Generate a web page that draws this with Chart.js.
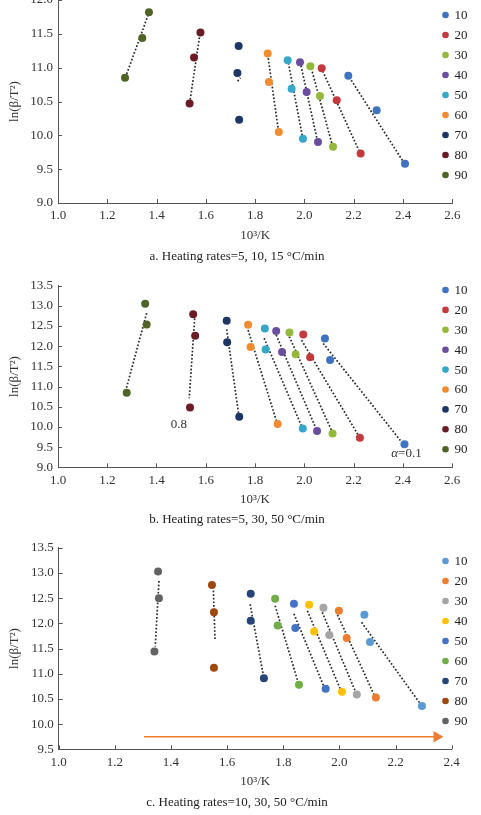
<!DOCTYPE html>
<html><head><meta charset="utf-8">
<script src="https://cdn.jsdelivr.net/npm/chart.js@4.4.1/dist/chart.umd.min.js"></script>
<style>
body{margin:0;background:#fff;width:481px;height:815px;overflow:hidden;position:relative;font-family:'Liberation Serif','Times New Roman',serif}
canvas{position:absolute;left:0}
.cap{position:absolute;left:0;width:474px;text-align:center;font-size:13px;line-height:16px;color:#222;white-space:nowrap}
</style></head><body>
<canvas id="ca" width="481" height="285" style="top:-20px"></canvas>
<canvas id="cb" width="481" height="265" style="top:270px"></canvas>
<canvas id="cc" width="481" height="280" style="top:535px"></canvas>
<div class="cap" style="top:248px">a. Heating rates=5, 10, 15 °C/min</div>
<div class="cap" style="top:511px">b. Heating rates=5, 30, 50 °C/min</div>
<div class="cap" style="top:794px">c. Heating rates=10, 30, 50 °C/min</div>
<script>
// ---- data (conversion levels, % ) ----
const CONV = ['10','20','30','40','50','60','70','80','90'];

const X_TICKS_AB = [1.0,1.2,1.4,1.6,1.8,2.0,2.2,2.4,2.6];
const X_TICKS_C  = [1.0,1.2,1.4,1.6,1.8,2.0,2.2,2.4];
const Y_TICKS_A  = [9.0,9.5,10.0,10.5,11.0,11.5,12.0];
const Y_TICKS_B  = [9.0,9.5,10.0,10.5,11.0,11.5,12.0,12.5,13.0,13.5];
const Y_TICKS_C  = [9.5,10.0,10.5,11.0,11.5,12.0,12.5,13.0,13.5];

const COLORS_AB = ['#3f72c0','#c4393c','#93b83c','#6b4d9e','#35a7c8','#f28a30','#1d3664','#6a1c26','#4f6326'];
const COLORS_C  = ['#5b9bd5','#ed7d31','#a5a5a5','#ffc000','#4472c4','#70ad47','#264478','#9e480e','#636363'];

// panel a
const A_X = [[2.178,2.293,2.408],[2.070,2.131,2.228],[2.024,2.063,2.116],[1.982,2.009,2.055],[1.932,1.948,1.994],[1.851,1.856,1.896],[1.733,1.728,1.735],[1.578,1.552,1.534],[1.369,1.342,1.272]];
const A_Y = [[10.88,10.37,9.58],[10.99,10.52,9.73],[11.02,10.58,9.83],[11.08,10.64,9.90],[11.11,10.69,9.95],[11.21,10.79,10.05],[11.32,10.92,10.23],[11.52,11.15,10.47],[11.82,11.44,10.85]];
const A_FIT = [[2.182,10.86,2.401,9.61],[2.074,10.95,2.223,9.76],[2.028,10.99,2.112,9.87],[1.986,11.03,2.052,9.93],[1.935,11.07,1.992,9.98],[1.853,11.14,1.894,10.08],[1.729,10.80,1.740,10.85],[1.576,11.50,1.536,10.52],[1.366,11.78,1.275,10.87]];

// panel b
const B_X = [[2.084,2.105,2.407],[1.996,2.024,2.226],[1.940,1.965,2.115],[1.886,1.910,2.052],[1.840,1.843,1.994],[1.772,1.782,1.892],[1.685,1.687,1.736],[1.549,1.557,1.536],[1.354,1.360,1.279]];
const B_Y = [[12.19,11.66,9.57],[12.29,11.73,9.73],[12.34,11.80,9.84],[12.38,11.86,9.90],[12.44,11.92,9.96],[12.53,11.98,10.07],[12.63,12.10,10.25],[12.79,12.26,10.48],[13.05,12.54,10.85]];
const B_FIT = [[2.077,12.07,2.395,9.63],[1.989,12.15,2.219,9.80],[1.939,12.24,2.111,9.91],[1.886,12.28,2.047,9.97],[1.837,12.20,1.989,10.02],[1.772,12.40,1.888,10.13],[1.685,12.42,1.733,10.34],[1.555,12.69,1.533,10.71],[1.360,12.82,1.276,10.92]];
const B_NOTES = [{x:1.491,y:10.07,parts:[['0.8',false]]},{x:2.415,y:9.35,parts:[['α',true],['=0.1',false]]}];

// panel c
const C_X = [[2.089,2.109,2.294],[1.998,2.026,2.130],[1.943,1.964,2.062],[1.892,1.910,2.009],[1.838,1.843,1.951],[1.771,1.780,1.856],[1.684,1.684,1.731],[1.546,1.553,1.553],[1.354,1.357,1.341]];
const C_Y = [[12.17,11.63,10.36],[12.25,11.71,10.53],[12.31,11.77,10.59],[12.37,11.84,10.64],[12.39,11.91,10.70],[12.49,11.96,10.78],[12.59,12.05,10.91],[12.76,12.22,11.12],[13.03,12.50,11.44]];
const C_FIT = [[2.079,12.02,2.290,10.39],[1.993,12.17,2.127,10.54],[1.939,12.22,2.059,10.62],[1.886,12.25,2.005,10.67],[1.838,12.19,1.945,10.74],[1.771,12.35,1.854,10.81],[1.682,12.38,1.729,10.97],[1.551,12.65,1.557,11.66],[1.357,12.84,1.344,11.54]];
const C_ARROW_X = [1.304,2.347];
const C_ARROW_Y = [9.75,9.75];

// ---- rendering ----
const FONT = "'Liberation Serif','Times New Roman',serif";
Chart.defaults.font.family = FONT;
Chart.defaults.font.size = 13;
Chart.defaults.color = '#333';

const innerTicks = {
  id:'innerTicks',
  afterDraw(chart){
    const ctx = chart.ctx, xs = chart.scales.x, ys = chart.scales.y;
    ctx.save(); ctx.strokeStyle='#555'; ctx.lineWidth=1;
    xs.ticks.forEach((t,i)=>{const p=Math.round(xs.getPixelForTick(i))+0.5;ctx.beginPath();ctx.moveTo(p,xs.top);ctx.lineTo(p,xs.top-4);ctx.stroke();});
    ys.ticks.forEach((t,i)=>{const p=Math.round(ys.getPixelForTick(i))+0.5;ctx.beginPath();ctx.moveTo(ys.right,p);ctx.lineTo(ys.right+4,p);ctx.stroke();});
    ctx.restore();
  }
};
const dotLegend = {
  id:'dotLegend',
  afterDraw(chart, args, o){
    const ctx = chart.ctx;
    ctx.save(); ctx.font = '13px '+FONT; ctx.textBaseline='middle'; ctx.textAlign='left';
    let k=0;
    chart.data.datasets.forEach(ds=>{
      if(!ds.isSeries) return;
      const y = o.y0 + k*o.gap;
      ctx.fillStyle = ds.backgroundColor;
      ctx.beginPath(); ctx.arc(o.x, y, 3.3, 0, Math.PI*2); ctx.fill();
      ctx.fillStyle = '#222'; ctx.fillText(ds.label, o.x+9, y+0.5);
      k++;
    });
    ctx.restore();
  }
};
const notes = {
  id:'notes',
  afterDraw(chart, args, o){
    if(!o.items) return;
    const ctx = chart.ctx, xs = chart.scales.x, ys = chart.scales.y;
    ctx.save(); ctx.textBaseline='middle'; ctx.fillStyle='#333';
    o.items.forEach(it=>{
      let total=0;
      it.parts.forEach(p=>{ctx.font=(p[1]?'italic ':'')+'13px '+FONT; total+=ctx.measureText(p[0]).width;});
      let px = xs.getPixelForValue(it.x) - total/2; const py = ys.getPixelForValue(it.y);
      it.parts.forEach(p=>{ctx.font=(p[1]?'italic ':'')+'13px '+FONT; ctx.textAlign='left'; ctx.fillText(p[0],px,py); px+=ctx.measureText(p[0]).width;});
    });
    ctx.restore();
  }
};

function build(id, cfg){
  const datasets = [];
  CONV.forEach((lab,i)=>{
    datasets.push({label:lab, isSeries:true, data:cfg.xs[i].map((x,j)=>({x, y:cfg.ys[i][j]})),
      backgroundColor:cfg.colors[i], borderColor:cfg.colors[i], pointRadius:4, pointBorderWidth:0, showLine:false, order:1});
  });
  cfg.fit.forEach(f=>{
    datasets.push({label:'', data:[{x:f[0],y:f[1]},{x:f[2],y:f[3]}], showLine:true, borderColor:'#2a2a2a',
      borderWidth:1.7, borderDash:[1.7,1.9], pointRadius:0, order:2});
  });
  if(cfg.arrow){
    datasets.push({label:'', data:cfg.arrow.x.map((x,j)=>({x,y:cfg.arrow.y[j]})), showLine:true, borderColor:'#ed7d31',
      backgroundColor:'#ed7d31', borderWidth:1.6, pointRadius:[0,5], pointStyle:'triangle', rotation:90, order:3});
  }
  const xt = cfg.xticks, yt = cfg.yticks;
  return new Chart(document.getElementById(id), {
    type:'scatter',
    data:{datasets},
    plugins:[innerTicks, dotLegend, notes],
    options:{
      responsive:false, animation:false, devicePixelRatio:1,
      layout:{padding:cfg.pad},
      plugins:{legend:{display:false}, tooltip:{enabled:false},
        dotLegend:cfg.legend, notes:{items:cfg.notes||null}},
      scales:{
        x:{type:'linear', min:xt[0], max:xt[xt.length-1],
          afterBuildTicks(s){s.ticks = xt.map(v=>({value:v}));},
          ticks:{padding:5, color:'#333', callback:v=>v.toFixed(1), font:{size:13}},
          grid:{display:false, drawTicks:false}, border:{display:true, color:'#555', width:1},
          title:{display:true, text:'10³/K', color:'#333', font:{size:13}, padding:{top:2,bottom:4}},
          afterFit(s){s.height = 44;}},
        y:{type:'linear', min:yt[0], max:yt[yt.length-1],
          afterBuildTicks(s){s.ticks = yt.map(v=>({value:v}));},
          ticks:{padding:5, color:'#333', callback:v=>v.toFixed(1), font:{size:13}},
          grid:{display:false, drawTicks:false}, border:{display:true, color:'#555', width:1},
          title:{display:true, text:'ln(β/T²)', color:'#333', font:{size:13}, padding:{top:7,bottom:2}},
          afterFit(s){s.width = cfg.yw;}}
      }
    }
  });
}

build('ca', {xs:A_X, ys:A_Y, fit:A_FIT, colors:COLORS_AB, xticks:X_TICKS_AB, yticks:Y_TICKS_A,
  pad:{left:0, top:20, right:28.7, bottom:18}, yw:58, legend:{x:445.5, y0:35, gap:20}});
build('cb', {xs:B_X, ys:B_Y, fit:B_FIT, colors:COLORS_AB, xticks:X_TICKS_AB, yticks:Y_TICKS_B, notes:B_NOTES,
  pad:{left:0, top:15.7, right:29, bottom:23.7}, yw:58, legend:{x:445.5, y0:20, gap:19.9}});
build('cc', {xs:C_X, ys:C_Y, fit:C_FIT, colors:COLORS_C, xticks:X_TICKS_C, yticks:Y_TICKS_C,
  arrow:{x:C_ARROW_X, y:C_ARROW_Y},
  pad:{left:0, top:11.7, right:29.3, bottom:21.7}, yw:58.7, legend:{x:445.5, y0:26, gap:20}});
</script>
</body></html>
